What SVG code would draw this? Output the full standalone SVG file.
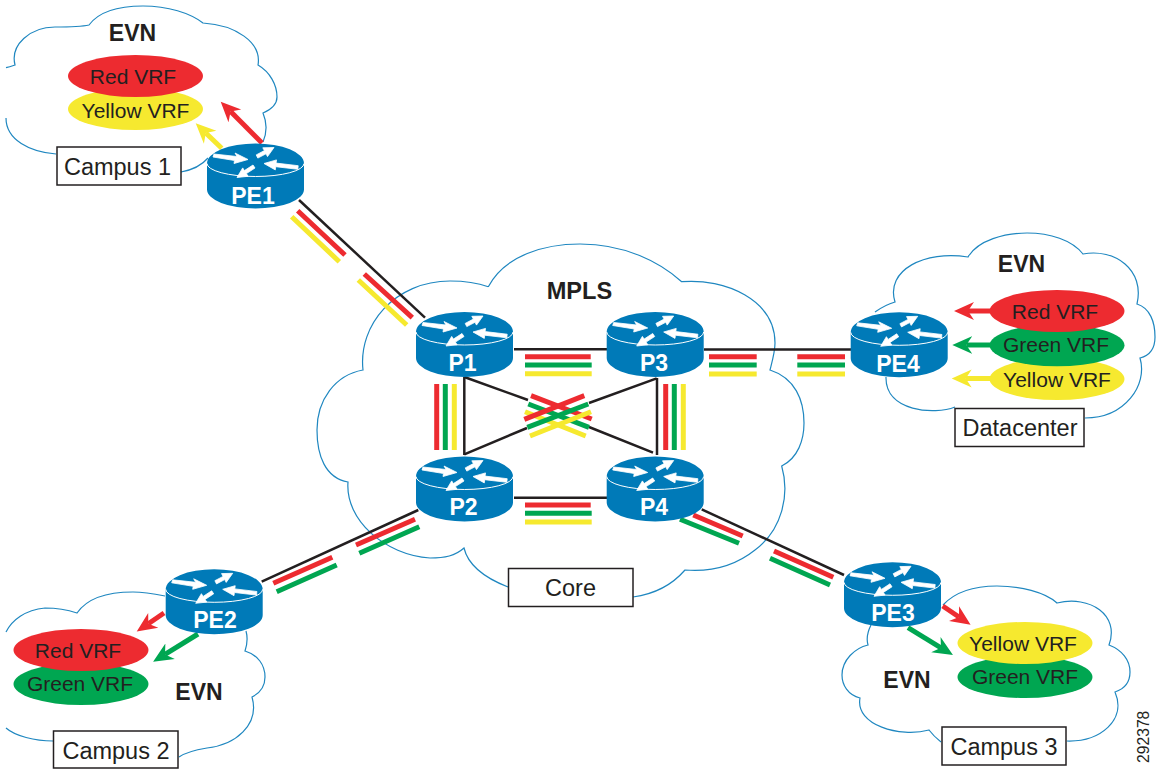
<svg xmlns="http://www.w3.org/2000/svg" xmlns:xlink="http://www.w3.org/1999/xlink" width="1162" height="769" viewBox="0 0 1162 769">
<style>
text{font-family:"Liberation Sans",Arial,sans-serif;fill:#231f20}
.cloud{fill:none;stroke:#1f87c0;stroke-width:1.2}
.evn{font-size:23px;font-weight:bold;text-anchor:middle}
.vrf{font-size:21px;text-anchor:middle}
.rt{font-size:23px;font-weight:bold;fill:#fff;text-anchor:middle}
.box{fill:#fff;stroke:#231f20;stroke-width:1.5}
.lbl{font-size:23.5px;text-anchor:middle}
.k{fill:none;stroke:#231f20;stroke-width:2.5}
.r,.g,.y{fill:none;stroke-width:5}
.r{stroke:#ed2b30}.g{stroke:#00a651}.y{stroke:#f6e92f}
.a{stroke-width:5}
.fr{fill:#ed2b30}.fg{fill:#00a651}.fy{fill:#f6e92f}
</style>
<defs>
<marker id="ar" markerUnits="userSpaceOnUse" markerWidth="22" markerHeight="20" refX="6" refY="10" orient="auto"><path class="fr" d="M20,10 L0,1 L6,10 L0,19Z"/></marker>
<marker id="ag" markerUnits="userSpaceOnUse" markerWidth="22" markerHeight="20" refX="6" refY="10" orient="auto"><path class="fg" d="M20,10 L0,1 L6,10 L0,19Z"/></marker>
<marker id="ay" markerUnits="userSpaceOnUse" markerWidth="22" markerHeight="20" refX="6" refY="10" orient="auto"><path class="fy" d="M20,10 L0,1 L6,10 L0,19Z"/></marker>
<g id="router">
<path fill="#007ab8" d="M0,20 A48.5,20 0 0 1 97,20 L97,46 A48.5,19 0 0 1 0,46Z"/>
<path fill="none" stroke="#fff" stroke-width="1" d="M0,20 A48.5,13 0 0 0 97,20"/>
<g fill="#fff" stroke="#fff" stroke-width="0.8" stroke-linejoin="round">
<polygon points="7,10.5 30,13 28,9.5 41,16 27,20 27.5,17 6,13.500"/>
<polygon points="67,4 55.8,4.3 57.4,7.1 49.2,11.4 50.8,14.6 59,10.3 60.5,13.1"/>
<polygon points="57,20 69.5,16.4 69.1,19.6 91.2,22.2 90.8,25.8 68.7,23.2 68.3,26.4"/>
<polygon points="30,34 41.1,32.8 39.4,30.1 48,24.5 46,21.5 37.4,27.1 35.7,24.4"/>
</g>
</g>
</defs>

<g id="cloud-campus1"><path class="cloud" d="M6,67.7 C9,67 12,66 15,65 C10,45 30,27 55,27 C67,27 80,27 89,25 C100,10 120,6 143,6 C168,6 190,13 203,23 C235,25 262,42 258,65 C270,72 277,85 277,97 C277,105 270,110 263,113 C268,125 266,135 263,142 M181,172 C192,170 202,165 208,158 M56,154 C30,152 6,140 6,118"/>
<text class="evn" x="132.500" y="40.700">EVN</text></g>

<g id="cloud-core"><path class="cloud" d="M488.3,286.7 C505,255 545,244 580,244 C625,244 660,262 681.7,281.7 C725,278 775,300 775,343 C775,352 772,362 770,370 C795,378 804,400 804,423 C804,440 798,458 781.7,466 C790,495 782,530 755,550 C735,566 710,572 685,570 C672,585 655,594 633,597 M508,587 C485,578 468,565 464,548 C455,556 445,558 430,558 C385,555 345,520 348,482 C325,478 317,455 317,430 C317,400 335,375 363,370 C358,325 395,281 450,281 C465,281 478,283 488.3,286.7"/>
<text class="evn" x="579.500" y="299" style="font-size:23.6px">MPLS</text></g>

<g id="cloud-datacenter"><path class="cloud" d="M875,312 C882,307 888,304 895,302 C885,270 925,250 968,257 C978,240 1005,233 1027,233 C1050,233 1072,240 1083,254 C1115,248 1145,270 1137,304 C1150,308 1155,322 1155,337 C1155,350 1148,356 1140,358 C1148,385 1125,418 1085,418 M955,407 C935,415 885,412 886,377"/>
<text class="evn" x="1021.500" y="271.500">EVN</text></g>

<g id="cloud-campus2"><path class="cloud" d="M6,632 C12,620 25,610 45,608 C58,608 68,610 77,613 C88,597 110,592 133,592 C145,592 155,594 165,596 M246,631 C248,638 247,645 245,651 C258,655 265,665 265,677 C265,687 260,693 252,697 C260,725 235,745 207,748 C195,750 186,752 179,757 M53,741 C35,741 15,736 6,728"/>
<text class="evn" x="199" y="699.500">EVN</text></g>

<g id="cloud-campus3"><path class="cloud" d="M943,605 C955,592 975,586 997,586 C1020,586 1045,592 1057,603 C1090,595 1120,615 1109,645 C1122,650 1130,660 1130,672 C1130,682 1124,689 1115,692 C1127,720 1100,742 1067,741 M941,742 C936,738 932,734 929,730 C900,738 855,725 860,698 C848,695 842,685 842,675 C842,660 855,648 868,645 C866,638 868,631 871,625"/>
<text class="evn" x="907" y="688">EVN</text></g>

<g id="connectors">
<path class="k" d="M299,200 L425,317.700"/>
<path class="r" d="M297.700,210.700 L345,255 M364.300,274 L412.300,317.700"/>
<path class="y" d="M291.700,216.700 L339.300,261.700 M358.300,280 L406.700,325"/>
<path class="k" d="M514,349.300 L607,349.300"/>
<path class="r" d="M525,356.700 H590.700"/><path class="g" d="M525,365 H591.700"/><path class="y" d="M525,373.700 H591.700"/>
<path class="k" d="M514,497.700 L607,497.700"/>
<path class="r" d="M525,505 H590.700"/><path class="g" d="M525,513.300 H591.700"/><path class="y" d="M525,522 H591.700"/>
<path class="k" d="M704,349.500 L851,349.500"/>
<path class="r" d="M709,356.700 H756.700 M797.300,356.700 H845"/><path class="g" d="M709,365 H756.700 M797.300,365 H845"/><path class="y" d="M709,374 H756.700 M797.300,374 H845"/>
<path class="k" d="M464.300,377 V455"/>
<path class="r" d="M436.700,384 V450"/><path class="g" d="M445.300,384 V450"/><path class="y" d="M454.300,384 V450"/>
<path class="k" d="M657,378 V455"/>
<path class="r" d="M665.700,384 V450"/><path class="g" d="M674.300,384 V450"/><path class="y" d="M683.300,384 V450"/>
<path class="k" d="M464.300,377 L528,400 M589,427 L653,452.700"/>
<path class="y" d="M525,411.700 L585.700,436"/><path class="g" d="M528.300,404 L589,427.300"/><path class="r" d="M531,395.700 L591.700,419"/>
<path class="k" d="M656.700,378.300 L589,403 M527,428 L464.300,454.300"/>
<path class="y" d="M591,411.700 L530,436"/><path class="g" d="M588.300,404 L527.300,427.300"/><path class="r" d="M584.300,395.700 L524.300,419.300"/>
<path class="k" d="M261.700,581.700 L418.300,510"/>
<path class="r" d="M273.300,583.300 L332.300,557.300 M356,545 L415,519.300"/>
<path class="g" d="M276.700,591.700 L336.700,565 M359.300,553.300 L419.300,526.700"/>
<path class="k" d="M701.700,509.300 L844,575"/>
<path class="r" d="M693.300,515 L742.700,536 M774,551 L833.300,577.300"/>
<path class="g" d="M680,519.300 L739,543.300 M770,558.300 L830,585"/>
<path class="r a" marker-end="url(#ar)" d="M262,143 L230.600,111.600"/>
<path class="y a" marker-end="url(#ay)" d="M221.700,148.300 L205.800,133"/>
<path class="r a" marker-end="url(#ar)" d="M995,311 L968,311"/>
<path class="g a" marker-end="url(#ag)" d="M995,345 L966.300,345"/>
<path class="y a" marker-end="url(#ay)" d="M995,378.500 L965.700,378.500"/>
<path class="r a" marker-end="url(#ar)" d="M164,613 L148.300,623.700"/>
<path class="g a" marker-end="url(#ag)" d="M198,634 L165,654.400"/>
<path class="r a" marker-end="url(#ar)" d="M942.700,606 L959,617"/>
<path class="g a" marker-end="url(#ag)" d="M908,627.700 L941,647.800"/>
</g>

<g id="PE1"><use href="#router" x="207" y="143.500"/><text class="rt" x="253" y="203.500">PE1</text></g>
<g id="P1"><use href="#router" x="416" y="312"/><text class="rt" x="462.500" y="371">P1</text></g>
<g id="P3"><use href="#router" x="606.700" y="312"/><text class="rt" x="654" y="371">P3</text></g>
<g id="P2"><use href="#router" x="416" y="456.500"/><text class="rt" x="463.500" y="515">P2</text></g>
<g id="P4"><use href="#router" x="606.700" y="456.500"/><text class="rt" x="654" y="515">P4</text></g>
<g id="PE4"><use href="#router" x="850.700" y="312.300"/><text class="rt" x="898" y="371.500">PE4</text></g>
<g id="PE2"><use href="#router" x="165.700" y="569.300"/><text class="rt" x="215" y="628">PE2</text></g>
<g id="PE3"><use href="#router" x="844" y="562.300"/><text class="rt" x="893" y="621">PE3</text></g>

<g id="vrf-campus1">
<ellipse class="fy" cx="135.500" cy="109" rx="67.500" ry="21"/><text class="vrf" x="135.500" y="117.700">Yellow VRF</text>
<ellipse class="fr" cx="135.500" cy="76" rx="67.500" ry="21"/><text class="vrf" x="133" y="83.500">Red VRF</text>
</g>
<g id="vrf-datacenter">
<ellipse class="fy" cx="1057" cy="379" rx="67.500" ry="21"/><text class="vrf" x="1057" y="386.700">Yellow VRF</text>
<ellipse class="fg" cx="1057" cy="345.300" rx="67.500" ry="21"/><text class="vrf" x="1056" y="351.700">Green VRF</text>
<ellipse class="fr" cx="1057" cy="311" rx="67.500" ry="21"/><text class="vrf" x="1055" y="319">Red VRF</text>
</g>
<g id="vrf-campus2">
<ellipse class="fg" cx="81" cy="684" rx="67.500" ry="21"/><text class="vrf" x="80" y="691">Green VRF</text>
<ellipse class="fr" cx="81" cy="650" rx="67.500" ry="21"/><text class="vrf" x="78" y="657.700">Red VRF</text>
</g>
<g id="vrf-campus3">
<ellipse class="fg" cx="1025" cy="677" rx="67.500" ry="21"/><text class="vrf" x="1025" y="684">Green VRF</text>
<ellipse class="fy" cx="1025" cy="643" rx="67.500" ry="21"/><text class="vrf" x="1023" y="650.700">Yellow VRF</text>
</g>

<g id="label-campus1"><rect class="box" x="57" y="147" width="124" height="38"/><text class="lbl" x="117.500" y="175">Campus 1</text></g>
<g id="label-campus2"><rect class="box" x="53.500" y="731" width="124.500" height="37"/><text class="lbl" x="116" y="759">Campus 2</text></g>
<g id="label-campus3"><rect class="box" x="942" y="727" width="124" height="38"/><text class="lbl" x="1004" y="754.500">Campus 3</text></g>
<g id="label-datacenter"><rect class="box" x="955" y="408.500" width="129" height="38"/><text class="lbl" x="1020" y="436">Datacenter</text></g>
<g id="label-core"><rect class="box" x="508.500" y="568.500" width="124.500" height="38"/><text class="lbl" x="570.500" y="596">Core</text></g>

<text x="1149" y="763" transform="rotate(-90 1149 763)" style="font-size:15.700px">292378</text>
</svg>
